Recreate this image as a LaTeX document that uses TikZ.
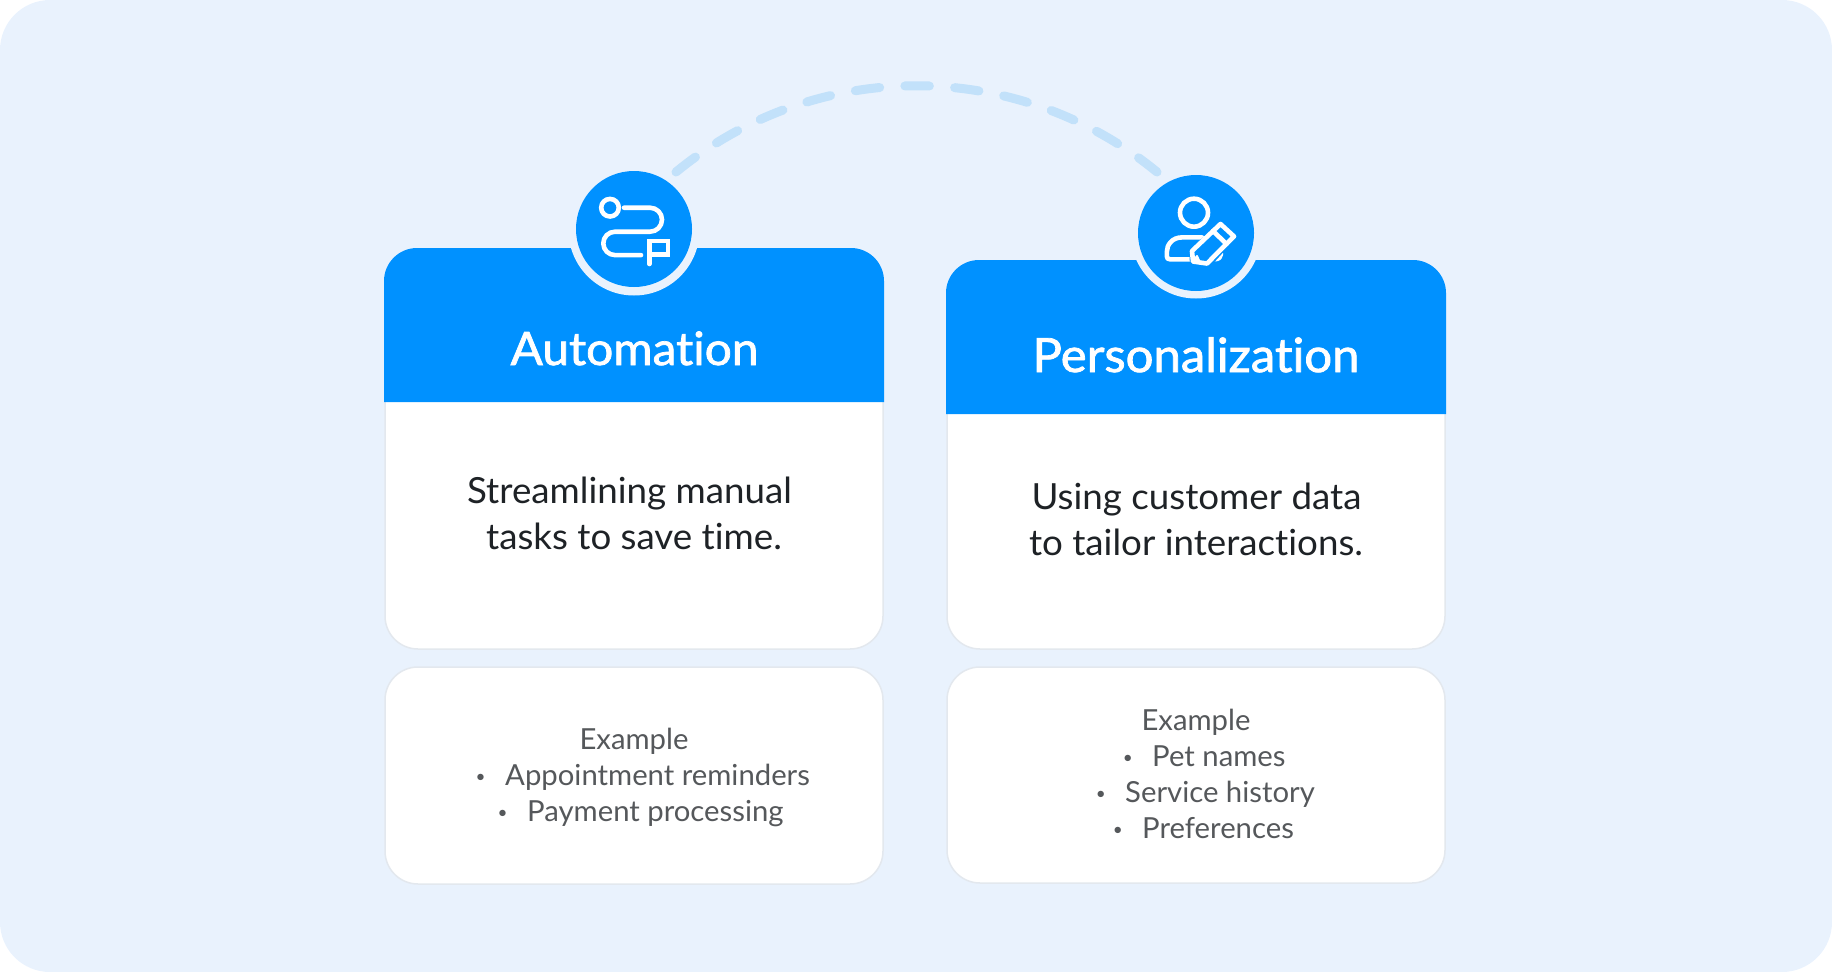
\documentclass[tikz,border=0pt]{standalone}
\usepackage{fontspec}
\setmainfont[Ligatures=NoCommon]{Lato}
\newfontfamily\titlefont[Ligatures=NoCommon,FakeBold=1.6,FakeStretch=1.04]{Lato}
\newfontfamily\bodyfont[Ligatures=NoCommon,FakeStretch=1.02]{Lato}
\newfontfamily\exfont[Ligatures=NoCommon,FakeStretch=1.01]{Lato}
\definecolor{pagebg}{HTML}{E9F2FD}
\definecolor{brand}{HTML}{0091FF}
\definecolor{cardline}{HTML}{E3E8EE}
\definecolor{dashcol}{HTML}{C2E1FA}
\definecolor{bodyink}{HTML}{1E2226}
\definecolor{exink}{HTML}{55585B}
\newcommand{\bul}{\llap{\raisebox{2.6pt}{\fontsize{17}{17}\selectfont\textbullet}\hspace{19.5pt}}}
\tikzset{
  x=1pt,y=-1pt,
  card/.style={draw=cardline,line width=1.5pt,fill=white,rounded corners=33pt},
  head/.style={fill=brand,draw=none},
  badge/.style={circle,fill=brand,draw=none,minimum size=116pt,inner sep=0pt},
  ring/.style={circle,fill=pagebg,draw=none,minimum size=131pt,inner sep=0pt},
  title/.style={anchor=base,text=white,font=\titlefont\fontsize{46}{46}\selectfont,inner sep=0pt},
  bodytxt/.style={anchor=base,text=bodyink,font=\bodyfont\fontsize{36}{36}\selectfont,inner sep=0pt},
  extxt/.style={anchor=base west,text=exink,font=\exfont\fontsize{29}{29}\selectfont,inner sep=0pt},
  icon/.style={draw=white,line width=4.6pt,line cap=round,line join=round},
  arcline/.style={draw=dashcol,line width=9pt,line cap=round,dash pattern=on 24.5pt off 25.3pt},
}
\begin{document}
\begin{tikzpicture}
\useasboundingbox (0,0) rectangle (1832,972);
\fill[pagebg,rounded corners=50pt] (0,0) rectangle (1832,972);
% dashed arc
\coordinate (arcA) at (676,172);
\coordinate (arcB) at (1157,172);
\draw[arcline] (arcA) .. controls (816,57) and (1017,57) .. (arcB);
% left card
\draw[card] (385,300) rectangle (883,649);
\fill[head] (384,402) -- (384,281) .. controls (384,262.8) and (398.8,248) .. (417,248) -- (851,248) .. controls (869.2,248) and (884,262.8) .. (884,281) -- (884,402) -- cycle;
\node[ring] (ringL) at (634,230) {};
\node[badge] (badgeL) at (634,229) {};
\node[title] (titleL) at (634.5,365) {Automation};
\node[bodytxt] (bodyL1) at (629.5,503) {Streamlining manual};
\node[bodytxt] (bodyL2) at (634,549) {tasks to save time.};
\draw[card] (385,667) rectangle (883,884);
\node[extxt,anchor=base] (exL) at (634,749) {Example};
\node[extxt] (exL1) at (505,785) {\bul Appointment reminders};
\node[extxt] (exL2) at (527,821) {\bul Payment processing};
% right card
\draw[card] (947,300) rectangle (1445,649);
\fill[head] (946,414) -- (946,293) .. controls (946,274.8) and (960.8,260) .. (979,260) -- (1413,260) .. controls (1431.2,260) and (1446,274.8) .. (1446,293) -- (1446,414) -- cycle;
\node[ring] (ringR) at (1196,233) {};
\node[badge] (badgeR) at (1196,233) {};
\node[title,font=\titlefont\fontsize{47.2}{47.2}\selectfont] (titleR) at (1196,372) {Personalization};
\node[bodytxt] (bodyR1) at (1196.5,509) {Using customer data};
\node[bodytxt] (bodyR2) at (1196,555) {to tailor interactions.};
\draw[card] (947,667) rectangle (1445,883);
\node[extxt,anchor=base] (exR) at (1196,730) {Example};
\node[extxt] (exR1) at (1152,766) {\bul Pet names};
\node[extxt] (exR2) at (1125,802) {\bul Service history};
\node[extxt] (exR3) at (1142,838) {\bul Preferences};
% left icon
\draw[icon] (610,207.7) circle (8.8);
\draw[icon] (624,207.7) -- (650,207.7) arc[start angle=-90,end angle=90,radius=12] -- (615,231.7) arc[start angle=-90,end angle=-270,radius=11.7] -- (641,255.1);
\draw[icon,line join=miter] (649.3,264) -- (649.3,241) -- (668,241) -- (668,254.5) -- (649.3,254.5);
% right icon
\draw[icon] (1194,212.7) circle (14);
\draw[icon] (1202,237.4) -- (1182,237.4) .. controls (1172,237.4) and (1166.8,245) .. (1166.8,252) -- (1166.8,256) .. controls (1166.8,258.5) and (1168,259.3) .. (1170,259.3) -- (1191,259.3);
\draw[icon] (1214,259.3) .. controls (1219,259.3) and (1221,257) .. (1221,254);
\fill[brand] (1217,225) -- (1238,236) -- (1209,268) -- (1190,264) -- (1189,250) -- cycle;
\draw[icon] (1220.5,224) -- (1234,236.4) -- (1207,263.5) -- (1193,261.5) -- (1192,251) -- cycle;
\draw[icon] (1213,231) -- (1226.5,244);
\draw[icon,line width=2pt,fill=white] (1197,256) -- (1194,260) -- (1199,260.5) -- cycle;
\end{tikzpicture}
\end{document}
